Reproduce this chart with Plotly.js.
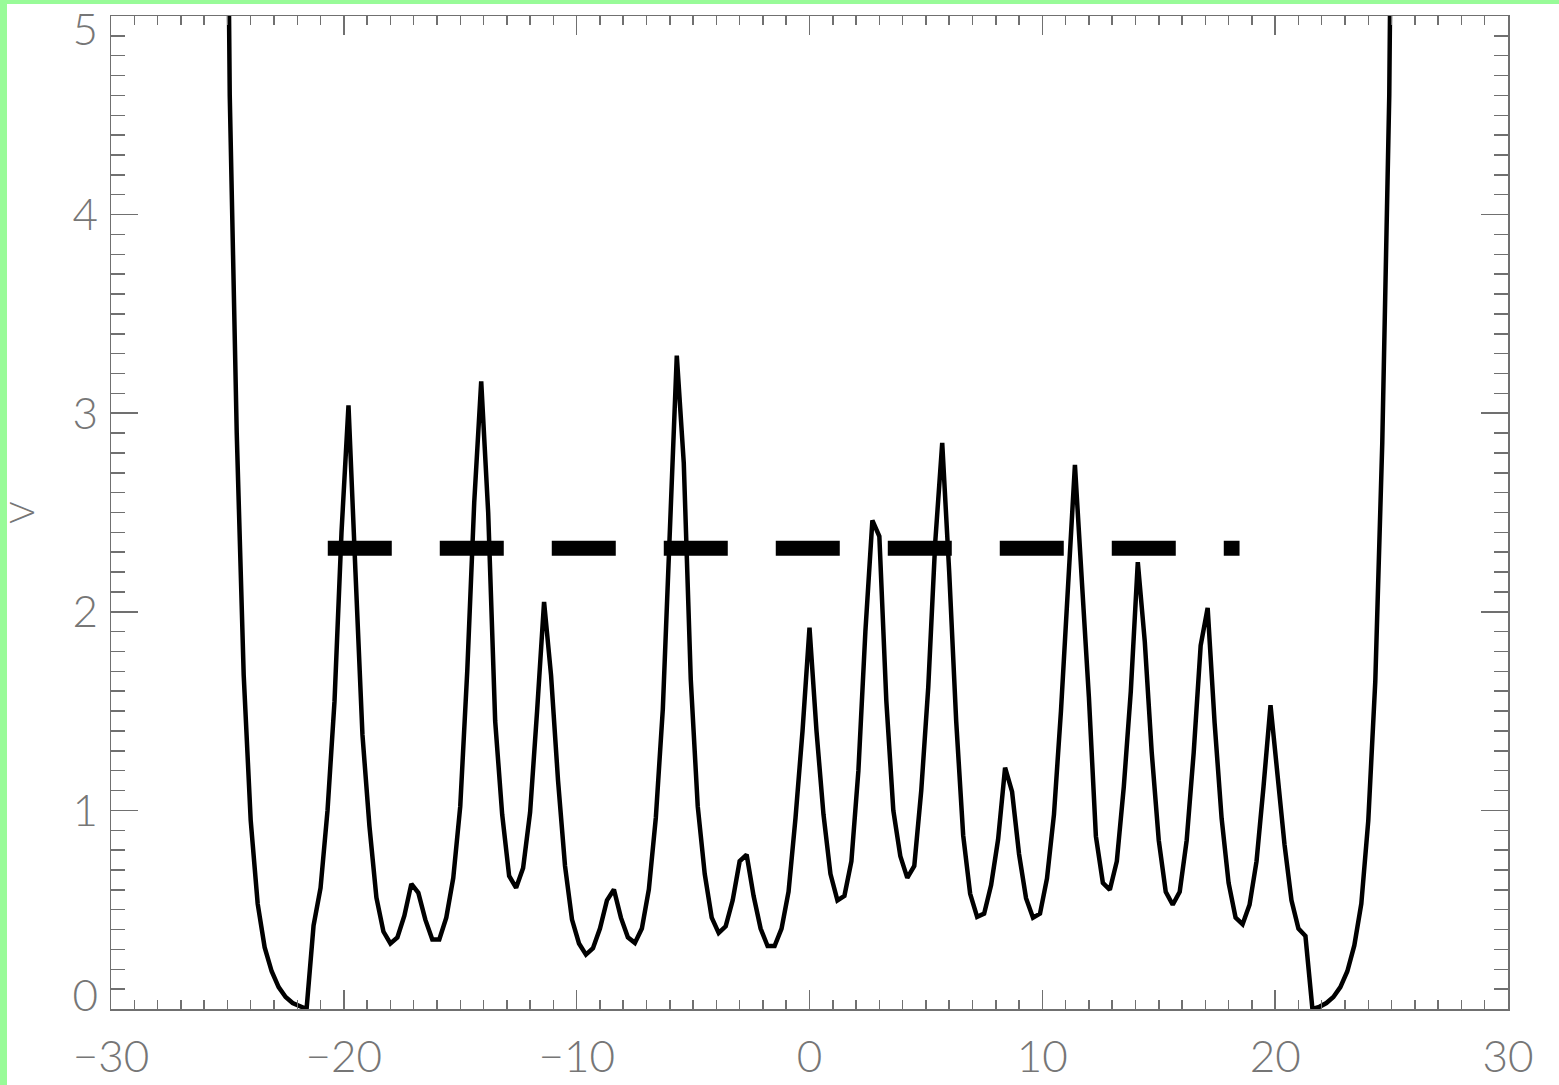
<!DOCTYPE html>
<html>
<head>
<meta charset="utf-8">
<script src="https://cdn.plot.ly/plotly-3.0.1.min.js"></script>
<style>
html,body{margin:0;padding:0;background:#98fb98;width:1559px;height:1085px;overflow:hidden}
#bg{position:absolute;left:7px;top:4px;width:1552px;height:1081px;background:#ffffff}
#plot{position:absolute;left:0;top:0;width:1559px;height:1085px}
</style>
</head>
<body>
<div id="bg"></div>
<div id="plot"></div>
<script>
// Sample positions along x
const xPos = [
 -25.2,-24.9,-24.6,-24.3,-24.0,-23.7,-23.4,-23.1,-22.8,-22.5,-22.2,-21.9,-21.6,
 -21.3,-21.0,-20.7,-20.4,-20.1,-19.8,-19.5,-19.2,-18.9,-18.6,-18.3,-18.0,-17.7,
 -17.4,-17.1,-16.8,-16.5,-16.2,-15.9,-15.6,-15.3,-15.0,-14.7,-14.4,-14.1,-13.8,
 -13.5,-13.2,-12.9,-12.6,-12.3,-12.0,-11.7,-11.4,-11.1,-10.8,-10.5,-10.2,-9.9,
 -9.6,-9.3,-9.0,-8.7,-8.4,-8.1,-7.8,-7.5,-7.2,-6.9,-6.6,-6.3,-6.0,-5.7,-5.4,
 -5.1,-4.8,-4.5,-4.2,-3.9,-3.6,-3.3,-3.0,-2.7,-2.4,-2.1,-1.8,-1.5,-1.2,-0.9,
 -0.6,-0.3,0.0,0.3,0.6,0.9,1.2,1.5,1.8,2.1,2.4,2.7,3.0,3.3,3.6,3.9,4.2,4.5,
 4.8,5.1,5.4,5.7,6.0,6.3,6.6,6.9,7.2,7.5,7.8,8.1,8.4,8.7,9.0,9.3,9.6,9.9,
 10.2,10.5,10.8,11.1,11.4,11.7,12.0,12.3,12.6,12.9,13.2,13.5,13.8,14.1,14.4,
 14.7,15.0,15.3,15.6,15.9,16.2,16.5,16.8,17.1,17.4,17.7,18.0,18.3,18.6,18.9,
 19.2,19.5,19.8,20.1,20.4,20.7,21.0,21.3,21.6,21.9,22.2,22.5,22.8,23.1,23.4,
 23.7,24.0,24.3,24.6,24.9,25.2
];
// Potential V at each position
const vValues = [
 8.5,4.6,2.9,1.68,0.95,0.53,0.31,0.19,0.11,0.06,0.03,0.012,0.0,
 0.42,0.61,1.0,1.55,2.4,3.04,2.2,1.38,0.92,0.56,0.39,0.33,0.36,
 0.47,0.63,0.585,0.45,0.35,0.35,0.46,0.66,1.02,1.7,2.55,3.16,2.5,
 1.45,0.98,0.67,0.61,0.71,0.99,1.5,2.05,1.68,1.15,0.72,0.45,0.33,
 0.274,0.306,0.405,0.547,0.602,0.46,0.361,0.333,0.405,0.602,0.963,1.51,2.39,3.29,2.75,
 1.66,1.02,0.68,0.46,0.383,0.416,0.547,0.744,0.777,0.569,0.405,0.317,0.317,0.405,0.591,
 0.963,1.40,1.92,1.4,0.98,0.68,0.547,0.57,0.744,1.2,1.9,2.46,2.38,1.55,1.0,0.77,0.66,0.72,
 1.1,1.62,2.35,2.85,2.2,1.45,0.875,0.58,0.464,0.48,0.624,0.854,1.215,1.094,0.78,0.558,0.46,0.48,
 0.657,0.98,1.5,2.1,2.74,2.15,1.57,0.87,0.635,0.6,0.744,1.12,1.6,2.25,1.85,
 1.29,0.85,0.59,0.525,0.59,0.85,1.29,1.83,2.02,1.44,0.96,0.635,0.46,0.427,0.525,
 0.744,1.12,1.53,1.18,0.83,0.547,0.405,0.368,0.0,0.011,0.03,0.06,0.11,0.19,0.32,
 0.53,0.95,1.65,2.85,4.6,8.5
];
// Dashed horizontal level
const levelX = [-20.69, 18.47];
const levelY = [2.32, 2.32];
// Y tick labels (end labels sit just inside the axis ends, as in the original)
const yLabelText = ['0', '1', '2', '3', '4', '5'];
const yLabelAt = [0.07, 1, 2, 3, 4, 4.93];

const axisColor = '#707070';
const tickFont = {family: 'Lato, sans-serif', size: 44, color: '#767676', weight: 300};

const traces = [
  {x: levelX, y: levelY, type: 'scatter', mode: 'lines', yaxis: 'y2',
   line: {color: '#000000', width: 15, dash: '64px,48px'}, hoverinfo: 'skip'},
  {x: xPos, y: vValues, type: 'scatter', mode: 'lines',
   line: {color: '#000000', width: 4.5}}
];

const layout = {
  width: 1559, height: 1085,
  margin: {l: 111, r: 51, t: 16, b: 76, pad: 0},
  paper_bgcolor: 'rgba(0,0,0,0)',
  plot_bgcolor: '#ffffff',
  showlegend: false,
  xaxis: {
    range: [-30, 30], tick0: 0, dtick: 10,
    ticks: 'inside', ticklen: 19, tickwidth: 1.5, tickcolor: axisColor,
    showline: true, linecolor: axisColor, linewidth: 1.5, mirror: 'ticks',
    showgrid: false, zeroline: false,
    minor: {dtick: 1, tick0: 0, ticks: 'inside', ticklen: 9, tickwidth: 1.5, tickcolor: axisColor, showgrid: false},
    tickfont: tickFont, ticklabelstandoff: 9, ticklabeloverflow: 'allow'
  },
  yaxis: {
    range: [0, 5], tick0: 0, dtick: 1,
    ticks: 'inside', ticklen: 27, tickwidth: 1.5, tickcolor: axisColor,
    showline: true, linecolor: axisColor, linewidth: 1.5, mirror: 'ticks',
    showgrid: false, zeroline: false, showticklabels: false,
    minor: {dtick: 0.1, tick0: 0, ticks: 'inside', ticklen: 14, tickwidth: 1.5, tickcolor: axisColor, showgrid: false}
  },
  yaxis2: {
    overlaying: 'y', side: 'left', range: [0, 5],
    tickmode: 'array', tickvals: yLabelAt, ticktext: yLabelText,
    ticks: '', showline: false, showgrid: false, zeroline: false,
    tickfont: tickFont, ticklabelstandoff: 12, ticklabeloverflow: 'allow',
    title: {text: 'V', font: {family: 'Lato, sans-serif', size: 34, color: '#767676', weight: 300}, standoff: 40}
  }
};

Plotly.newPlot('plot', traces, layout, {staticPlot: true, displayModeBar: false});
</script>
</body>
</html>
